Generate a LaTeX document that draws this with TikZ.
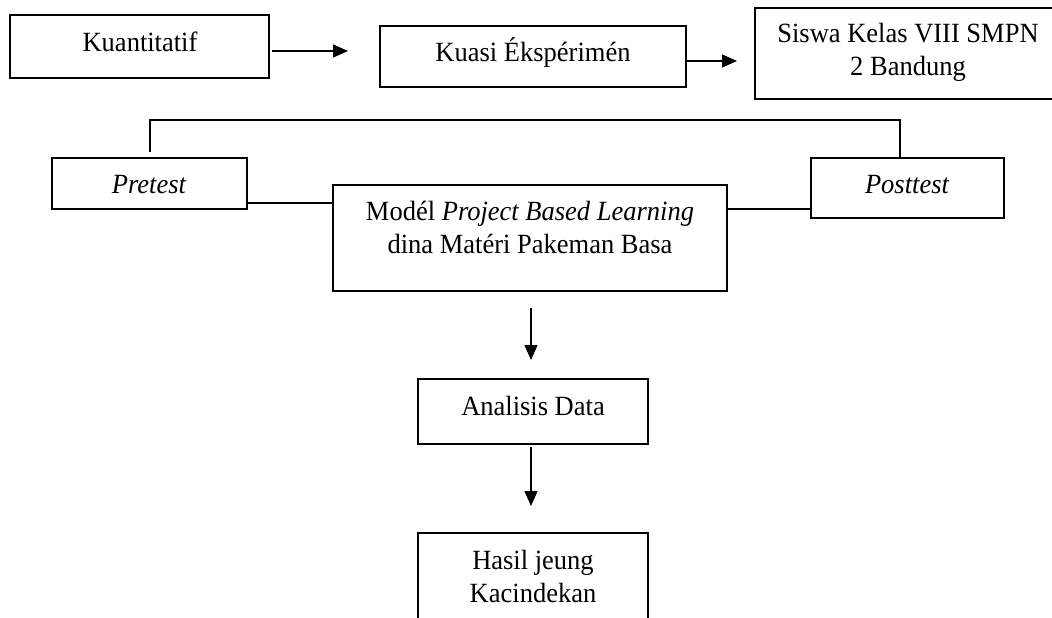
\documentclass[tikz,border=0pt]{standalone}
\usepackage{fontspec}
\usepackage{graphicx}
\setmainfont{Liberation Serif}
\usetikzlibrary{arrows.meta}
\newcommand{\tallt}[1]{\scalebox{1}[1.05]{#1}}
\begin{document}
\begin{tikzpicture}[x=1pt,y=-1pt,
  box/.style={draw, line width=1.2pt, inner sep=0pt},
  txt/.style={anchor=base, inner sep=0pt, font=\fontsize{26.5}{33}\selectfont},
  conn/.style={line width=1.2pt},
  arr/.style={conn, -{Triangle[length=15pt,width=13pt]}}]
\useasboundingbox (0,0) rectangle (1052,618);
\begin{scope}
\clip (0,0) rectangle (1052,618);
% boxes
\node[box, minimum width=259pt, minimum height=63pt] (kua) at (139.5,46.5) {};
\node[box, minimum width=306pt, minimum height=61pt] (kue) at (533,56.5) {};
\node[box, minimum width=307pt, minimum height=91pt] (sis) at (908.5,53.5) {};
\node[box, minimum width=195pt, minimum height=51pt] (pre) at (149.5,183.5) {};
\node[box, minimum width=394pt, minimum height=106pt] (mod) at (530,238) {};
\node[box, minimum width=193pt, minimum height=60pt] (pos) at (907.5,188) {};
\node[box, minimum width=230pt, minimum height=65pt] (ana) at (533,411.5) {};
\node[box, minimum width=230pt, minimum height=107pt] (has) at (533,586.5) {};
\end{scope}
% texts
\node[txt] (t1) at (140,52) {\tallt{Kuantitatif}};
\node[txt] (t2) at (533,62) {\tallt{Kuasi Ékspérimén}};
\node[txt] (t3a) at (908,43) {\tallt{Siswa Kelas VIII SMPN}};
\node[txt] (t3b) at (908,75) {\tallt{2 Bandung}};
\node[txt] (t4) at (149,193) {\tallt{\itshape Pretest}};
\node[txt] (t5) at (907,193) {\tallt{\itshape Posttest}};
\node[txt] (t6a) at (530,220) {\tallt{Modél \textit{Project Based Learning}}};
\node[txt] (t6b) at (530,253) {\tallt{dina Matéri Pakeman Basa}};
\node[txt] (t7) at (533,415) {\tallt{Analisis Data}};
\node[txt] (t8a) at (533,569) {\tallt{Hasil jeung}};
\node[txt] (t8b) at (533,602) {\tallt{Kacindekan}};
% connector points
\coordinate (a1s) at (272,51);
\coordinate (a1e) at (348,51);
\coordinate (a2s) at (687,61);
\coordinate (a2e) at (737,61);
\coordinate (a3s) at (531,308);
\coordinate (a3e) at (531,360);
\coordinate (a4s) at (531,447);
\coordinate (a4e) at (531,506);
\coordinate (bl) at (150,152);
\coordinate (btl) at (150,120);
\coordinate (btr) at (900,120);
\coordinate (br) at (900,158);
\coordinate (l1) at (0,203);
\coordinate (l2) at (0,209);
% connectors
\draw[arr] (a1s) -- (a1e);
\draw[arr] (a2s) -- (a2e);
\draw[arr] (a3s) -- (a3e);
\draw[arr] (a4s) -- (a4e);
\draw[conn] (bl) -- (btl) -- (btr) -- (br);
\draw[conn] (pre.east |- l1) -- (mod.west |- l1);
\draw[conn] (mod.east |- l2) -- (pos.west |- l2);
\end{tikzpicture}
\end{document}
